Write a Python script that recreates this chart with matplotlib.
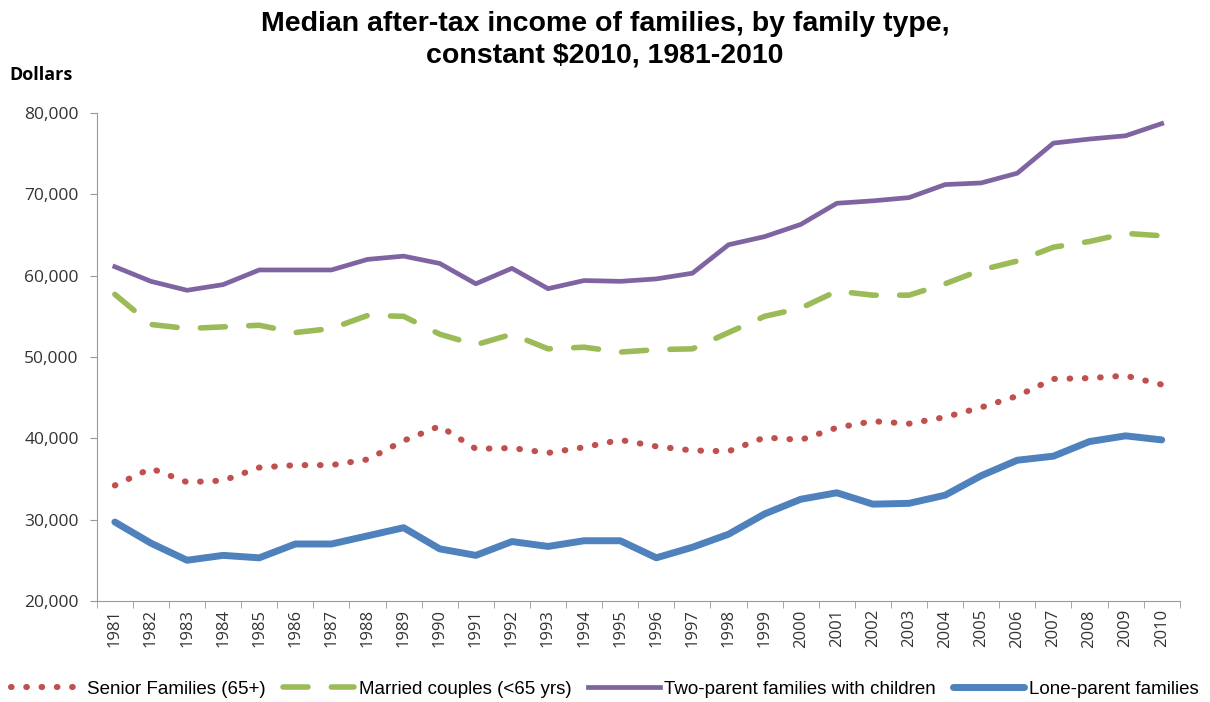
import matplotlib.pyplot as plt
import numpy as np

plt.rcParams['font.family'] = ['Open Sans', 'DejaVu Sans']

years = list(range(1981, 2011))
senior = [34200, 36300, 34600, 34800, 36400, 36700, 36700, 37400, 39700, 41500,
          38700, 38800, 38200, 38900, 39800, 39000, 38500, 38400, 40100, 39800,
          41300, 42100, 41800, 42600, 43800, 45200, 47300, 47400, 47700, 46600]
married = [57700, 54000, 53500, 53700, 53900, 53000, 53500, 55100, 55000, 52800,
           51500, 52800, 51000, 51200, 50600, 50900, 51000, 53000, 55000, 56000,
           58100, 57600, 57600, 59000, 60700, 61800, 63500, 64200, 65200, 64900]
two_parent = [61100, 59300, 58200, 58900, 60700, 60700, 60700, 62000, 62400, 61500,
              59000, 60900, 58400, 59400, 59300, 59600, 60300, 63800, 64800, 66300,
              68900, 69200, 69600, 71200, 71400, 72600, 76300, 76800, 77200, 78700]
lone_parent = [29700, 27100, 25000, 25600, 25300, 27000, 27000, 28000, 29000, 26400,
               25600, 27300, 26700, 27400, 27400, 25300, 26600, 28200, 30700, 32500,
               33300, 31900, 32000, 33000, 35400, 37300, 37800, 39600, 40300, 39800]
yticks = [20000, 30000, 40000, 50000, 60000, 70000, 80000]

fig = plt.figure(figsize=(12.1, 7.02), dpi=100)
ax = fig.add_axes([0.080, 0.144, 0.895, 0.695])

x = np.arange(len(years))
ax.plot(x, senior, color='#C0504D', lw=4.4, linestyle=(0, (0.1, 2.4)),
        dash_capstyle='round', label='Senior Families (65+)')
ax.plot(x, married, color='#9BBB59', lw=4, linestyle=(0, (4.5, 4.2)),
        dash_capstyle='round', label='Married couples (<65 yrs)')
ax.plot(x, two_parent, color='#8064A2', lw=3.4, solid_joinstyle='round',
        label='Two-parent families with children')
ax.plot(x, lone_parent, color='#4F81BD', lw=5, solid_joinstyle='round',
        solid_capstyle='round', label='Lone-parent families')

ax.set_xlim(-0.5, len(years) - 0.5)
ax.set_ylim(20000, 80000)
ax.set_yticks(yticks)
ax.set_yticklabels([f'{v:,}' for v in yticks], fontsize=12.5, color='#333333')
ax.set_xticks(x)
ax.set_xticklabels([str(y) for y in years], rotation=90, fontsize=12, color='#333333')
ax.set_xticks(np.arange(-0.5, len(years)), minor=True)
ax.tick_params(axis='x', which='major', length=0, pad=6)
ax.tick_params(axis='x', which='minor', length=5, color='#999999')
ax.tick_params(axis='y', length=5, color='#999999', pad=8)
for s in ['top', 'right']:
    ax.spines[s].set_visible(False)
for s in ['left', 'bottom']:
    ax.spines[s].set_color('#999999')

fig.text(0.5, 0.985, 'Median after-tax income of families, by family type,\nconstant $2010, 1981-2010',
         ha='center', va='top', fontsize=20.5, fontweight='bold',
         family=['Liberation Sans', 'DejaVu Sans'], linespacing=1.3)
fig.text(0.008, 0.893, 'Dollars', fontsize=13, fontweight='bold', ha='left', va='center')

fig.legend(loc='lower center', bbox_to_anchor=(0.5, -0.018), ncol=4, frameon=False,
           handlelength=3.8, columnspacing=0.9, handletextpad=0.25,
           prop={'family': ['Liberation Sans', 'DejaVu Sans'], 'size': 13.5})

fig.savefig('out.png', dpi=100)
